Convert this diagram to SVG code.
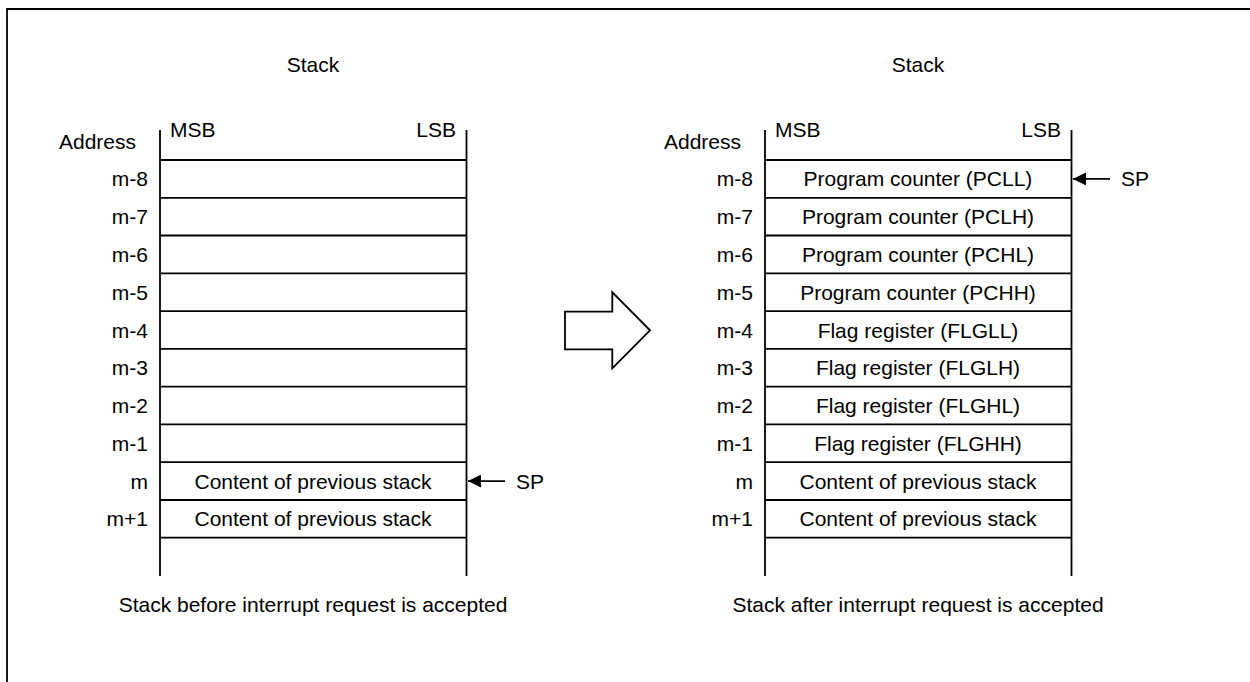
<svg xmlns="http://www.w3.org/2000/svg" width="1250" height="682" viewBox="0 0 1250 682">
<style>
text{font-family:"Liberation Sans",Arial,sans-serif;font-size:21px;fill:#000}
.c{text-anchor:middle}
.r{text-anchor:end}
.ln{stroke:#000;stroke-width:1.8;fill:none}
</style>
<defs>
<marker id="ah" viewBox="0 0 10 10" refX="10" refY="5" markerWidth="15" markerHeight="13" markerUnits="userSpaceOnUse" orient="auto-start-reverse"><path d="M0,0 L10,5 L0,10 z" fill="#000"/></marker>
</defs>
<rect width="1250" height="682" fill="#fff"/>
<path class="ln" d="M7,682 V9 H1250"/>
<g id="stack-before">
<text class="c" x="313" y="72">Stack</text>
<text x="59" y="149">Address</text>
<text x="170" y="137">MSB</text>
<text class="r" x="456" y="137">LSB</text>
<path class="ln" d="M160,130 V576 M466.5,130 V576 M160,160 H466.5 M160,197.8 H466.5 M160,235.5 H466.5 M160,273.3 H466.5 M160,311.1 H466.5 M160,348.9 H466.5 M160,386.6 H466.5 M160,424.4 H466.5 M160,462.2 H466.5 M160,500 H466.5 M160,537.7 H466.5"/>
<text class="r" x="148" y="186.4">m-8</text>
<text class="r" x="148" y="224.2">m-7</text>
<text class="r" x="148" y="262">m-6</text>
<text class="r" x="148" y="299.7">m-5</text>
<text class="r" x="148" y="337.5">m-4</text>
<text class="r" x="148" y="375.3">m-3</text>
<text class="r" x="148" y="413">m-2</text>
<text class="r" x="148" y="450.8">m-1</text>
<text class="r" x="148" y="488.6">m</text>
<text class="r" x="148" y="526.4">m+1</text>
<text class="c" x="313" y="488.6">Content of previous stack</text>
<text class="c" x="313" y="526.4">Content of previous stack</text>
<text class="c" x="313" y="612">Stack before interrupt request is accepted</text>
</g>
<g id="stack-after">
<text class="c" x="918" y="72">Stack</text>
<text x="664" y="149">Address</text>
<text x="775" y="137">MSB</text>
<text class="r" x="1061" y="137">LSB</text>
<path class="ln" d="M765,130 V576 M1071.5,130 V576 M765,160 H1071.5 M765,197.8 H1071.5 M765,235.5 H1071.5 M765,273.3 H1071.5 M765,311.1 H1071.5 M765,348.9 H1071.5 M765,386.6 H1071.5 M765,424.4 H1071.5 M765,462.2 H1071.5 M765,500 H1071.5 M765,537.7 H1071.5"/>
<text class="r" x="753" y="186.4">m-8</text>
<text class="r" x="753" y="224.2">m-7</text>
<text class="r" x="753" y="262">m-6</text>
<text class="r" x="753" y="299.7">m-5</text>
<text class="r" x="753" y="337.5">m-4</text>
<text class="r" x="753" y="375.3">m-3</text>
<text class="r" x="753" y="413">m-2</text>
<text class="r" x="753" y="450.8">m-1</text>
<text class="r" x="753" y="488.6">m</text>
<text class="r" x="753" y="526.4">m+1</text>
<text class="c" x="918" y="186.4">Program counter (PCLL)</text>
<text class="c" x="918" y="224.2">Program counter (PCLH)</text>
<text class="c" x="918" y="262">Program counter (PCHL)</text>
<text class="c" x="918" y="299.7">Program counter (PCHH)</text>
<text class="c" x="918" y="337.5">Flag register (FLGLL)</text>
<text class="c" x="918" y="375.3">Flag register (FLGLH)</text>
<text class="c" x="918" y="413">Flag register (FLGHL)</text>
<text class="c" x="918" y="450.8">Flag register (FLGHH)</text>
<text class="c" x="918" y="488.6">Content of previous stack</text>
<text class="c" x="918" y="526.4">Content of previous stack</text>
<text class="c" x="918" y="612">Stack after interrupt request is accepted</text>
</g>
<g id="sp-before">
<text x="516" y="488.6">SP</text>
</g>
<g id="sp-after">
<text x="1121" y="186.4">SP</text>
</g>
<g id="transition-arrow">
<path class="ln" d="M565,311.7 H612.3 V292.3 L650,330.3 L612.3,368.3 V349.3 H565 Z" fill="#fff"/>
</g>
<g id="connectors">
<line class="ln" x1="505" y1="481.1" x2="468" y2="481.1" marker-end="url(#ah)"/>
<line class="ln" x1="1110" y1="178.9" x2="1073" y2="178.9" marker-end="url(#ah)"/>
</g>
</svg>
